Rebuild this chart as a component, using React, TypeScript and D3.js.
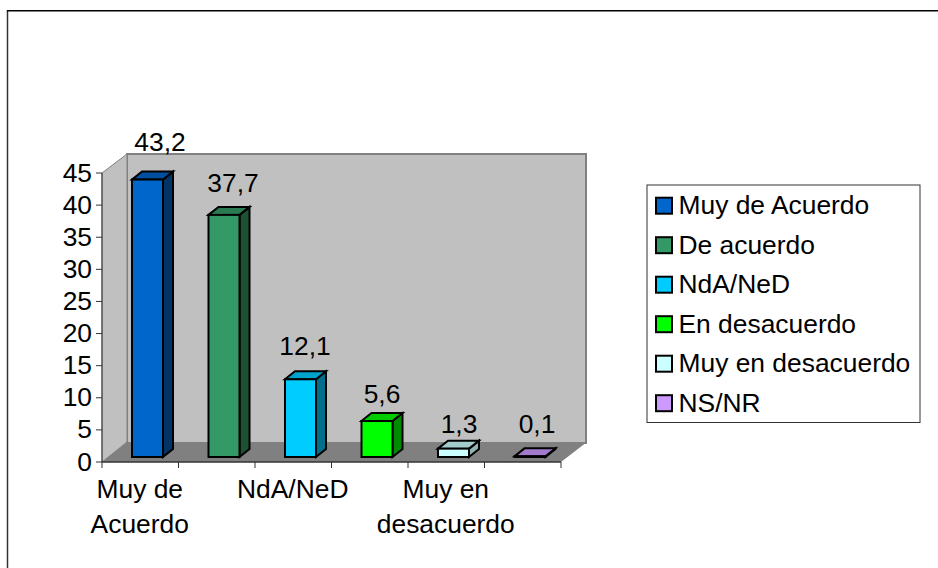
import React from "react";
import * as d3 from "d3";

const categories = ["Muy de Acuerdo", "De acuerdo", "NdA/NeD", "En desacuerdo", "Muy en desacuerdo", "NS/NR"];
const values = [43.2, 37.7, 12.1, 5.6, 1.3, 0.1];
const valueLabels = ["43,2", "37,7", "12,1", "5,6", "1,3", "0,1"];
const frontColors = ["#0066cc", "#339966", "#00ccff", "#00ff00", "#ccffff", "#cc99ff"];
const sideColors = ["#003366", "#1c5233", "#006f8c", "#008c00", "#8fb2b2", "#7a5c99"];
const topColors = ["#00509f", "#2a7a52", "#00a3cc", "#00cc00", "#a3cccc", "#a37acc"];
const yTicks = [0, 5, 10, 15, 20, 25, 30, 35, 40, 45];
const axisLabels: [number, string[]][] = [[0, ["Muy de", "Acuerdo"]], [2, ["NdA/NeD"]], [4, ["Muy en", "desacuerdo"]]];

const FONT = "'Liberation Sans', Arial, sans-serif";
const FS = 26.4;
const DX = 25, DY = 20;
const x0 = 102, x1 = 561, y0 = 462, y45 = 173;
const BAR_W = 31, BD_X = 10, BD_Y = 8;

// label placement relative to each bar's band start and back-top edge
const labelOffsetX = [58, 54.5, 50, 50.5, 51, 52.5];
const labelGap = [21, 15, 16, 10, 8, 15];

const xs = d3.scaleBand<number>().domain(d3.range(6)).range([x0, x1]);
const yh = d3.scaleLinear().domain([0, 45]).range([0, y0 - y45]);
const pts = (p: number[][]) => p.map((a) => a.join(",")).join(" ");

export default function App() {
  const bw = xs.bandwidth();
  return (
    <svg width={938} height={568} style={{ position: "fixed", left: 0, top: 0, background: "#fff", fontFamily: FONT }}>
      <line x1={7.5} x2={7.5} y1={10} y2={568} stroke="#333" strokeWidth={1.5} />
      <line x1={7} x2={938} y1={10.7} y2={10.7} stroke="#000" strokeWidth={1.5} />
      {/* back wall, side wall, floor */}
      <rect x={x0 + DX} y={y45 - DY + 1} width={x1 - x0} height={y0 - y45} fill="#c0c0c0" stroke="#808080" strokeWidth={2} />
      <polygon points={pts([[x0, y45], [x0 + DX, y45 - DY + 1], [x0 + DX, y0 - DY], [x0, y0]])} fill="#c0c0c0" stroke="#808080" strokeWidth={1} />
      <polygon points={pts([[x0, y0], [x0 + DX, y0 - DY], [x1 + DX + 1, y0 - DY], [x1, y0]])} fill="#808080" />
      {/* axes */}
      <line x1={x0} x2={x0} y1={y45} y2={y0} stroke="#333" strokeWidth={1} />
      <line x1={x0} x2={x1} y1={y0} y2={y0} stroke="#333" strokeWidth={1.5} />
      {yTicks.map((t) => {
        const y = y0 - yh(t);
        return (
          <g key={t}>
            <line x1={x0 - 6} x2={x0} y1={y} y2={y} stroke="#333" />
            <text x={x0 - 10} y={y + 8.5} textAnchor="end" fontSize={FS} fill="#000">{t}</text>
          </g>
        );
      })}
      {d3.range(7).map((i) => {
        const x = x0 + i * bw;
        return <line key={i} x1={x} x2={x} y1={y0} y2={y0 + 6} stroke="#333" />;
      })}
      {axisLabels.map(([i, lines]) =>
        lines.map((l, k) => (
          <text key={l} x={(xs(i) as number) + bw / 2 - 0.5} y={498 + k * 34.5} textAnchor="middle" fontSize={FS} fill="#000">{l}</text>
        ))
      )}
      {/* bars */}
      {values.map((v, i) => {
        const l = (xs(i) as number) + 30;
        const r = l + BAR_W;
        const b = y0 - 5;
        const t = b - yh(v);
        return (
          <g key={i} stroke="#000" strokeWidth={2} strokeLinejoin="miter">
            <polygon points={pts([[r, t], [r + BD_X, t - BD_Y], [r + BD_X, b - BD_Y], [r, b]])} fill={sideColors[i]} />
            <polygon points={pts([[l, t], [l + BD_X, t - BD_Y], [r + BD_X, t - BD_Y], [r, t]])} fill={topColors[i]} />
            <rect x={l} y={t} width={BAR_W} height={b - t} fill={frontColors[i]} />
          </g>
        );
      })}
      {values.map((v, i) => (
        <text key={i} x={(xs(i) as number) + labelOffsetX[i]} y={y0 - 5 - yh(v) - BD_Y - labelGap[i]} textAnchor="middle" fontSize={FS} fill="#000">{valueLabels[i]}</text>
      ))}
      {/* legend */}
      <rect x={647} y={185} width={273} height={237.5} fill="#fff" stroke="#333" strokeWidth={1} />
      {categories.map((c, i) => {
        const cy = 205.7 + i * 39.5;
        return (
          <g key={c}>
            <rect x={656} y={cy - 8} width={16} height={16} fill={frontColors[i]} stroke="#000" strokeWidth={2} />
            <text x={678.5} y={cy + 8.7} fontSize={FS} fill="#000">{c}</text>
          </g>
        );
      })}
    </svg>
  );
}
